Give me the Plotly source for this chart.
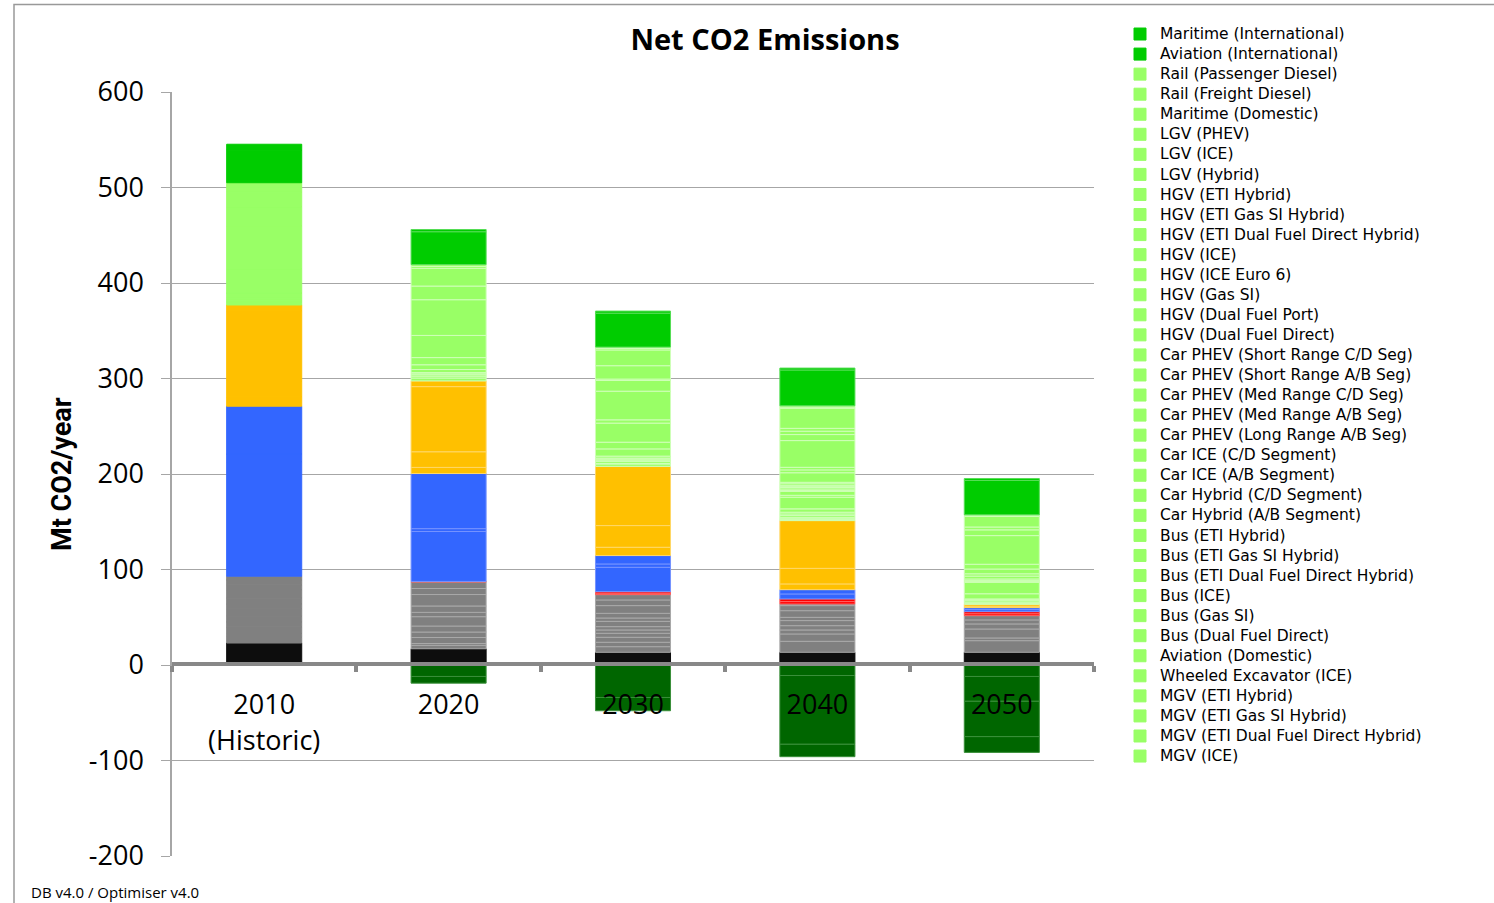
import plotly.graph_objects as go

# ---------------------------------------------------------------------------
# Data (Mt CO2 / year); every row runs over the five columns in `years`
# ---------------------------------------------------------------------------
years = ["2010<br>(Historic)", "2020", "2030", "2040", "2050"]

y_tick_vals = [-200, -100, 0, 100, 200, 300, 400, 500, 600]
y_tick_text = ["-200", "-100", "0", "100", "200", "300", "400", "500", "600"]

# stacked from the bottom of each column upwards
black_rows = [
    [23.0, 17.0, 13.3, 13.3, 13.3],
]

grey_rows = [
    [6.0, 3.6, 5.9, 11.5, 12.2],
    [4.0, 1.9, 4.6, 0.0, 0.0],
    [7.0, 6.3, 5.2, 7.7, 2.8],
    [5.0, 5.7, 4.2, 4.2, 0.0],
    [6.0, 6.3, 3.5, 0.0, 0.0],
    [8.0, 9.8, 3.5, 4.5, 9.4],
    [5.0, 4.5, 5.5, 5.3, 0.0],
    [6.0, 6.7, 3.5, 0.0, 0.0],
    [9.0, 12.0, 4.9, 3.4, 5.3],
    [5.0, 6.3, 8.1, 7.0, 0.0],
    [5.0, 6.9, 5.9, 5.3, 4.2],
    [4.0, 0.0, 5.6, 1.7, 4.5],
]

red_rows = [
    [0.0, 0.3, 1.5, 2.5, 2.0],
    [0.0, 0.2, 1.6, 2.8, 2.2],
]

blue_rows = [
    [120.0, 52.3, 25.5, 5.2, 2.1],
    [8.0, 3.0, 3.5, 0.0, 0.0],
    [50.0, 57.7, 8.8, 4.5, 2.1],
]

orange_rows = [
    [10.0, 6.4, 8.7, 6.0, 0.5],
    [16.0, 16.4, 22.7, 16.3, 1.0],
    [74.0, 68.2, 62.0, 50.0, 2.0],
    [6.0, 6.0, 0.0, 0.0, 0.0],
]

transport_names = [
    "MGV (ICE)",
    "MGV (ETI Dual Fuel Direct Hybrid)",
    "MGV (ETI Gas SI Hybrid)",
    "MGV (ETI Hybrid)",
    "Wheeled Excavator (ICE)",
    "Aviation (Domestic)",
    "Bus (Dual Fuel Direct)",
    "Bus (Gas SI)",
    "Bus (ICE)",
    "Bus (ETI Dual Fuel Direct Hybrid)",
    "Bus (ETI Gas SI Hybrid)",
    "Bus (ETI Hybrid)",
    "Car Hybrid (A/B Segment)",
    "Car Hybrid (C/D Segment)",
    "Car ICE (A/B Segment)",
    "Car ICE (C/D Segment)",
    "Car PHEV (Long Range A/B Seg)",
    "Car PHEV (Med Range A/B Seg)",
    "Car PHEV (Med Range C/D Seg)",
    "Car PHEV (Short Range A/B Seg)",
    "Car PHEV (Short Range C/D Seg)",
    "HGV (Dual Fuel Direct)",
    "HGV (Dual Fuel Port)",
    "HGV (Gas SI)",
    "HGV (ICE Euro 6)",
    "HGV (ICE)",
    "HGV (ETI Dual Fuel Direct Hybrid)",
    "HGV (ETI Gas SI Hybrid)",
    "HGV (ETI Hybrid)",
    "LGV (Hybrid)",
    "LGV (ICE)",
    "LGV (PHEV)",
    "Maritime (Domestic)",
    "Rail (Freight Diesel)",
    "Rail (Passenger Diesel)",
]

transport_rows = [
    [3.0, 3.0, 2.5, 1.0, 0.0],
    [0.0, 0.0, 0.0, 0.5, 0.5],
    [0.0, 0.0, 0.0, 0.5, 0.5],
    [0.0, 0.0, 0.5, 1.5, 1.2],
    [2.0, 2.0, 2.0, 2.0, 1.5],
    [2.0, 1.5, 1.5, 1.5, 1.0],
    [0.0, 0.0, 0.0, 0.0, 0.0],
    [0.0, 0.0, 0.0, 0.0, 0.0],
    [5.0, 1.8, 1.2, 0.0, 0.0],
    [0.0, 0.0, 0.0, 0.0, 0.0],
    [0.0, 0.0, 0.0, 0.0, 0.0],
    [0.0, 0.4, 1.0, 1.8, 0.9],
    [0.5, 3.2, 2.0, 3.5, 5.4],
    [0.5, 5.0, 7.6, 12.2, 12.0],
    [25.0, 7.5, 7.0, 2.0, 0.0],
    [45.0, 23.2, 20.0, 4.0, 0.0],
    [0.0, 0.0, 0.0, 1.0, 1.0],
    [0.0, 0.0, 0.0, 1.6, 1.0],
    [0.0, 0.0, 0.0, 1.5, 1.5],
    [0.0, 0.0, 0.0, 0.8, 0.0],
    [0.0, 0.0, 3.4, 1.2, 0.0],
    [0.0, 0.0, 0.0, 2.0, 3.0],
    [0.0, 0.0, 0.0, 0.0, 0.0],
    [0.0, 0.0, 0.0, 1.5, 2.4],
    [0.0, 37.4, 30.0, 10.0, 0.0],
    [20.0, 0.0, 0.0, 0.0, 0.0],
    [0.0, 0.0, 0.0, 3.0, 5.0],
    [0.0, 0.0, 0.0, 2.7, 5.0],
    [0.0, 0.0, 11.2, 28.0, 30.0],
    [0.0, 0.0, 1.5, 6.3, 6.0],
    [15.0, 14.3, 14.0, 3.5, 0.0],
    [0.0, 0.0, 0.0, 3.0, 3.0],
    [6.0, 18.5, 16.5, 21.0, 11.0],
    [2.0, 2.0, 1.5, 1.3, 0.9],
    [2.0, 2.0, 1.5, 1.3, 0.8],
]

international_names = ["Aviation (International)", "Maritime (International)"]
international_rows = [
    [34.0, 34.4, 35.5, 37.5, 36.0],
    [6.3, 2.3, 2.2, 2.0, 2.0],
]

# negative contributions, stacked downwards from zero
removal_rows = [
    [0.0, -12.0, -34.0, -11.0, -12.0],
    [0.0, -7.0, -13.9, -72.0, -26.0],
    [0.0, 0.0, 0.0, -13.0, -37.0],
    [0.0, 0.0, 0.0, 0.0, -16.5],
]

# ---------------------------------------------------------------------------
# Styling
# ---------------------------------------------------------------------------
FONT = "Open Sans, Liberation Sans, sans-serif"
LEGEND_FONT = "DejaVu Sans, Open Sans, sans-serif"
GRID = "#a6a6a6"
AXIS = "#888888"
W, H = 1494, 903

# axes in pixels: x 172..1094, y 92..856 (600 .. -200);
# the paper area reaches up to y=19 so the legend can start near the top
PX_L, PX_R, PX_T, PX_B = 172, 1094, 92, 856
PAPER_TOP = 19


def px_x(px):
    return (px - PX_L) / (PX_R - PX_L)


def px_y(py):
    return (PX_B - py) / (PX_B - PAPER_TOP)


fig = go.Figure()


def add_group(rows, fill, seam, names=None, show=False):
    # the historic column is outlined in its own fill colour so its
    # segments merge; later columns get lighter seams between segments
    line_colors = [fill] + [seam] * (len(years) - 1)
    for i, row in enumerate(rows):
        label = None
        if names:
            label = '<span style="font-size:15.5px">%s</span>' % names[i]
        fig.add_trace(go.Bar(
            x=years,
            y=[v if v != 0 else None for v in row],
            name=label,
            showlegend=show,
            marker=dict(color=fill, line=dict(color=line_colors, width=1)),
        ))


add_group(black_rows, "#0d0d0d", "#0d0d0d")
add_group(grey_rows, "#808080", "#a8a8a8")
add_group(red_rows, "#ff0000", "#ff6060")
add_group(blue_rows, "#3366ff", "#7593ff")
add_group(orange_rows, "#ffc000", "#ffd766")
add_group(transport_rows, "#99ff66", "#cfffb8", names=transport_names, show=True)
add_group(international_rows, "#00cc00", "#55dd55", names=international_names, show=True)
add_group(removal_rows, "#006600", "#3a8f3a")

fig.update_layout(
    width=W,
    height=H,
    autosize=False,
    margin=dict(l=PX_L, r=W - PX_R, t=PAPER_TOP, b=H - PX_B, pad=0, autoexpand=False),
    paper_bgcolor="white",
    plot_bgcolor="white",
    barmode="relative",
    bargap=0.593,
    font=dict(family=FONT, color="#000000"),
    title=dict(
        text="<b>Net CO2 Emissions</b>",
        font=dict(family=FONT, size=29, color="#000000"),
        xref="container", yref="container",
        x=765 / W, y=1 - 40 / H,
        xanchor="center", yanchor="middle",
    ),
    legend=dict(
        traceorder="reversed",
        x=px_x(1120), y=1,
        xanchor="left", yanchor="top",
        font=dict(family=LEGEND_FONT, size=13.12, color="#000000"),
        bgcolor="rgba(0,0,0,0)",
        borderwidth=0,
    ),
    xaxis=dict(
        type="category",
        anchor="free",
        position=px_y(664),
        showline=True, linecolor=AXIS, linewidth=4,
        ticks="outside", tickson="boundaries",
        ticklen=6, tickwidth=4, tickcolor=AXIS,
        ticklabelstandoff=16,
        showgrid=False, zeroline=False,
        tickfont=dict(family=FONT, size=27, color="#000000"),
        fixedrange=True,
    ),
    yaxis=dict(
        domain=[0, px_y(PX_T)],
        range=[-200, 600],
        tickmode="array",
        tickvals=y_tick_vals,
        ticktext=y_tick_text,
        showgrid=True, gridcolor=GRID, gridwidth=1.3,
        showline=True, linecolor=GRID, linewidth=1.5,
        ticks="outside", ticklen=9, tickwidth=1.3, tickcolor=GRID,
        ticklabelstandoff=12,
        zeroline=False,
        tickfont=dict(family=FONT, size=27, color="#000000"),
        fixedrange=True,
    ),
    shapes=[
        dict(
            type="rect", xref="paper", yref="paper", layer="below",
            x0=px_x(14), x1=px_x(1500), y0=px_y(910), y1=px_y(4.5),
            line=dict(color="#999999", width=1.5),
            fillcolor="rgba(0,0,0,0)",
        ),
    ],
    annotations=[
        dict(
            text="<b>Mt CO2/year</b>",
            xref="paper", yref="paper",
            x=px_x(62), y=px_y(474),
            xanchor="center", yanchor="middle",
            textangle=-90, showarrow=False,
            font=dict(family="Roboto, Open Sans, sans-serif", size=27, color="#000000"),
        ),
        dict(
            text="DB v4.0 / Optimiser v4.0",
            xref="paper", yref="paper",
            x=px_x(29), y=px_y(892),
            xanchor="left", yanchor="middle",
            showarrow=False,
            font=dict(family=FONT, size=15, color="#000000"),
        ),
    ],
)

fig.write_html("out.html")
